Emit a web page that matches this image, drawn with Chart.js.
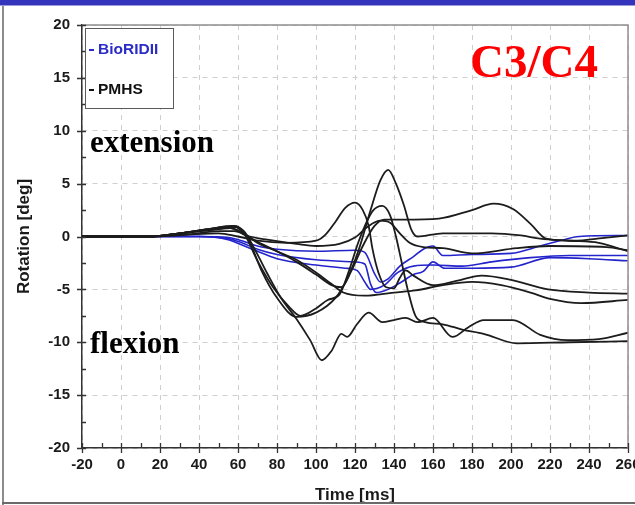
<!DOCTYPE html>
<html>
<head>
<meta charset="utf-8">
<script src="https://cdn.jsdelivr.net/npm/chart.js@4.4.1/dist/chart.umd.min.js"></script>
<style>
  html, body { margin: 0; padding: 0; background: #fff; }
  body { width: 635px; height: 505px; overflow: hidden; position: relative; }
  #wrap { position: absolute; left: 0; top: 0; width: 660px; height: 505px; }
  .topbar { position: absolute; left: 0; top: 0; width: 635px; height: 5px; background: #3434bc; border-bottom: 1px solid #9a9ad8; }
  .leftline { position: absolute; left: 2px; top: 6px; width: 2px; height: 499px; background: #8c8c8c; }
  .bottomline { position: absolute; left: 2px; top: 502px; width: 633px; height: 2px; background: #6a6a6a; }
  .legend { position: absolute; left: 85px; top: 28px; width: 87px; height: 79px; border: 1px solid #5a5a5a; background: #fff;
            font: bold 15.5px "Liberation Sans", Arial, sans-serif; }
  .legend div { position: absolute; left: 3px; line-height: 18px; white-space: nowrap; }
  .legend span { display: inline-block; width: 5px; height: 2px; vertical-align: middle; margin-right: 4px; }
  .note { position: absolute; font-family: "Liberation Serif", "Times New Roman", serif; font-weight: bold; line-height: 1; white-space: nowrap; }
</style>
</head>
<body>
<div id="wrap"><canvas id="rotChart" width="660" height="505"></canvas></div>
<div class="topbar"></div>
<div class="leftline"></div>
<div class="bottomline"></div>
<div class="legend">
  <div style="top: 11px; color: #2b2bc8;"><span style="background:#2b2bc8"></span>BioRIDII</div>
  <div style="top: 51px; color: #111;"><span style="background:#111"></span>PMHS</div>
</div>
<div class="note" style="left: 90px; top: 126px; font-size: 31px; color: #000;">extension</div>
<div class="note" style="left: 90px; top: 327px; font-size: 31px; color: #000;">flexion</div>
<div class="note" style="left: 470px; top: 38px; font-size: 47px; color: #ff0000;">C3/C4</div>
<script>
// axis ranges / ticks
const timeMin = -20, timeMax = 260, timeStep = 20
const rotMin = -20, rotMax = 20, rotStep = 5

// BioRIDII curves [time ms, rotation deg]
const bioridA = [[-20,0],[40,0],[55,-0.1],[62,-0.4],[70,-0.9],[80,-1.2],[100,-1.4],[120,-1.3],[125,-1.5],[130,-3.5],[133,-4.3],[137,-4.0],[143,-2.8],[150,-1.9],[155,-1.2],[160,-0.9],[165,-1.8],[180,-1.7],[200,-1.6],[215,-0.9],[225,-0.4],[235,0.0],[260,0.1]]
const bioridB = [[-20,0],[40,0],[55,-0.2],[62,-0.6],[70,-1.2],[80,-1.7],[100,-2.2],[120,-2.4],[125,-2.6],[128,-4.5],[131,-5.3],[137,-5.0],[143,-4.4],[150,-3.6],[155,-3.3],[160,-2.4],[166,-3.0],[180,-3.0],[200,-2.9],[220,-2.0],[240,-2.1],[260,-2.3]]
const bioridC = [[-20,0],[40,0],[55,-0.3],[62,-0.8],[70,-1.4],[80,-2.1],[100,-2.7],[115,-3.0],[121,-3.2],[125,-4.3],[128,-5.0],[135,-4.6],[142,-3.4],[150,-2.8],[160,-2.7],[175,-2.8],[190,-2.4],[210,-2.0],[230,-1.8],[260,-1.8]]

// PMHS curves [time ms, rotation deg]
const pmhs1 = [[-20,0],[15,0],[30,0.3],[45,0.7],[57,1.0],[62,0.6],[66,-0.5],[72,-3.2],[80,-5.8],[90,-7.6],[100,-7.2],[110,-5.8],[116,-4.0],[122,-1.2],[128,2.5],[133,5.3],[137,6.3],[141,5.0],[145,3.0],[149,0.6],[152,0.0],[165,0.3],[190,0.3],[205,0.1],[215,-0.2],[230,-0.4],[245,-0.6],[260,-1.4]]
const pmhs2 = [[-20,0],[15,0],[30,0.3],[45,0.7],[58,1.0],[63,0.5],[68,-1.0],[75,-3.5],[82,-5.8],[90,-7.8],[97,-9.8],[103,-11.7],[108,-10.8],[113,-9.2],[116,-9.5],[121,-8.3],[127,-7.2],[134,-8.1],[140,-7.9],[146,-7.7],[152,-8.1],[160,-7.7],[170,-9.5],[178,-8.6],[186,-7.9],[201,-7.9],[215,-9.3],[229,-9.8],[245,-9.7],[260,-9.1]]
const pmhs3 = [[-20,0],[15,0],[35,0.2],[50,0.3],[60,0.0],[70,-0.4],[85,-0.6],[100,-0.4],[105,0.2],[110,1.4],[115,2.7],[120,3.2],[124,2.5],[127,1.0],[129,-1.2],[132,-3.4],[136,-4.8],[140,-4.9],[143,-3.9],[146,-3.2],[150,-3.7],[160,-4.6],[172,-4.2],[185,-3.7],[200,-4.1],[219,-5.0],[240,-5.3],[260,-5.4]]
const pmhs4 = [[-20,0],[15,0],[30,0.3],[45,0.7],[58,0.9],[63,0.3],[70,-2.3],[78,-4.8],[86,-6.6],[92,-7.5],[100,-6.8],[106,-6.0],[112,-5.5],[117,-3.2],[122,-0.4],[129,2.4],[134,2.9],[138,2.0],[141,0.0],[144,-2.5],[147,-5.0],[151,-7.5],[156,-8.1],[165,-8.3],[175,-8.8],[186,-9.2],[203,-10.1],[230,-10.0],[260,-9.9]]
const pmhs5 = [[-20,0],[15,0],[30,0.3],[45,0.6],[56,0.8],[63,0.3],[70,-0.6],[80,-1.4],[90,-2.2],[100,-3.4],[108,-4.5],[114,-5.3],[125,-5.6],[140,-5.3],[151,-5.1],[165,-4.6],[180,-4.3],[195,-4.6],[210,-5.3],[220,-5.9],[236,-6.3],[260,-6.0]]
const pmhs6 = [[-20,0],[15,0],[30,0.3],[45,0.6],[56,0.8],[63,0.2],[70,-0.5],[80,-1.4],[90,-2.4],[100,-3.6],[108,-4.6],[113,-4.8],[118,-3.3],[124,-0.9],[130,1.0],[135,1.6],[145,1.6],[163,1.7],[180,2.5],[191,3.1],[201,2.6],[210,1.2],[218,-0.2],[232,-0.4],[249,-0.1],[260,0.1]]
const pmhs7 = [[-20,0],[15,0],[35,0.2],[50,0.5],[58,0.5],[66,0.0],[75,-0.3],[90,-0.7],[100,-0.9],[112,-0.7],[120,-0.1],[127,1.0],[133,1.5],[138,1.3],[143,0.3],[148,-0.6],[155,-1.0],[165,-1.1],[180,-1.6],[203,-1.1],[220,-0.9],[249,-1.0],[260,-1.3]]

const blueCurves = [bioridA, bioridB, bioridC]
const blackCurves = [pmhs1, pmhs2, pmhs3, pmhs4, pmhs5, pmhs6, pmhs7]

function toDataset(points, color, width) {
  return {
    data: points.map(p => ({ x: p[0], y: p[1] })),
    borderColor: color,
    borderWidth: width,
    pointRadius: 0,
    fill: false,
    cubicInterpolationMode: 'monotone'
  }
}

// frame on top/right plus major and minor tick marks
const axisDecor = {
  id: 'axisDecor',
  afterDraw(chart) {
    const { ctx, chartArea: a, scales: { x, y } } = chart
    ctx.save()
    ctx.strokeStyle = '#8e8e8e'
    ctx.lineWidth = 1.5
    ctx.beginPath()
    ctx.moveTo(a.left, a.top)
    ctx.lineTo(a.right, a.top)
    ctx.lineTo(a.right, a.bottom)
    ctx.stroke()

    ctx.strokeStyle = '#333'
    ctx.lineWidth = 1.3
    ctx.beginPath()
    for (let t = timeMin; t <= timeMax; t += timeStep / 2) {
      const px = Math.round(x.getPixelForValue(t)) + 0.5
      const major = (t - timeMin) % timeStep === 0
      ctx.moveTo(px, a.bottom - 5)
      ctx.lineTo(px, a.bottom + (major ? 5 : 0))
    }
    for (let v = rotMin; v <= rotMax; v += rotStep / 2) {
      const py = Math.round(y.getPixelForValue(v)) + 0.5
      const major = (v - rotMin) % rotStep === 0
      ctx.moveTo(a.left - (major ? 5 : 0), py)
      ctx.lineTo(a.left + 4, py)
    }
    ctx.stroke()
    ctx.restore()
  }
}

const tickFont = { family: '"Liberation Sans", Arial, sans-serif', size: 15, weight: 'bold' }
const titleFont = { family: '"Liberation Sans", Arial, sans-serif', size: 17, weight: 'bold' }

new Chart(document.getElementById('rotChart'), {
  type: 'line',
  data: {
    datasets: [
      ...blackCurves.map(c => toDataset(c, 'rgb(28, 28, 28)', 1.8)),
      ...blueCurves.map(c => toDataset(c, 'rgb(36, 36, 205)', 1.6))
    ]
  },
  options: {
    responsive: false,
    animation: false,
    devicePixelRatio: 1,
    layout: { padding: { top: 25, right: 32, left: 0, bottom: 0 } },
    plugins: {
      legend: { display: false },
      tooltip: { enabled: false }
    },
    scales: {
      x: {
        type: 'linear',
        min: timeMin,
        max: timeMax,
        ticks: { stepSize: timeStep, color: '#1a1a1a', font: tickFont, padding: 8, maxRotation: 0 },
        grid: { color: '#cfcfcf', lineWidth: 1, drawTicks: false },
        border: { display: true, color: '#333', width: 1.5, dash: [5, 5] },
        title: { display: true, text: 'Time [ms]', color: '#1a1a1a', font: titleFont, padding: { top: 0, bottom: -1 } },
        afterFit: scale => { scale.height = 57 }
      },
      y: {
        type: 'linear',
        min: rotMin,
        max: rotMax,
        ticks: { stepSize: rotStep, color: '#1a1a1a', font: tickFont, padding: 12 },
        grid: { color: '#cfcfcf', lineWidth: 1, drawTicks: false },
        border: { display: true, color: '#333', width: 1.5, dash: [5, 5] },
        title: { display: true, text: 'Rotation [deg]', color: '#1a1a1a', font: titleFont, padding: { top: 14, bottom: 0 } },
        afterFit: scale => { scale.width = 82 }
      }
    }
  },
  plugins: [axisDecor]
})
</script>
</body>
</html>
